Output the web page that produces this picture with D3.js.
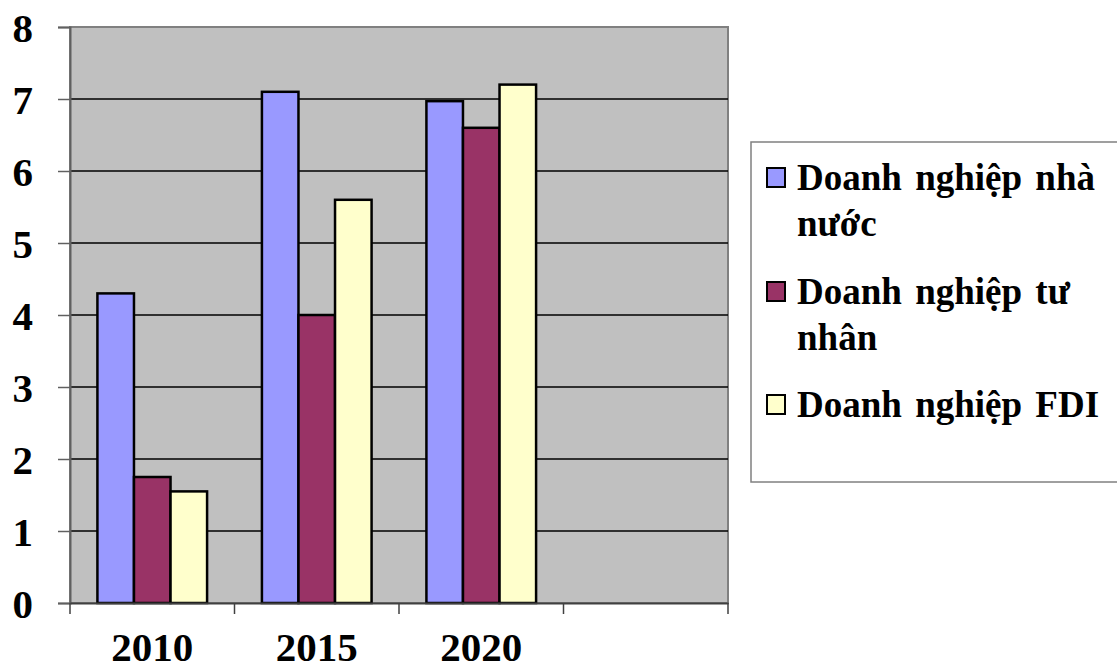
<!DOCTYPE html>
<meta charset="utf-8">
<script src="https://d3js.org/d3.v7.min.js"></script>
<style>
    body { margin: 0; background: #fff; }
    svg text { font-family: "Liberation Serif", "Times New Roman", serif; font-weight: bold; fill: #000; }
    .tick-label { font-size: 41px; }
    .legend-text { font-size: 37px; word-spacing: 4px; }
</style>
<div id="my_dataviz"></div>
<script>
// data
const years = ["2010", "2015", "2020", ""];
const seriesNames = ["Doanh nghiệp nhà nước", "Doanh nghiệp tư nhân", "Doanh nghiệp FDI"];
const legendLines = [["Doanh nghiệp nhà", "nước"], ["Doanh nghiệp tư", "nhân"], ["Doanh nghiệp FDI"]];
const stateValues = [4.3, 7.1, 6.97];
const privateValues = [1.75, 4.0, 6.6];
const fdiValues = [1.55, 5.6, 7.2];
const yTicks = [0, 1, 2, 3, 4, 5, 6, 7, 8];
const colors = ["#9999FF", "#993366", "#FFFFCC"];

const W = 1117, H = 671;
const plot = {left: 70, top: 27, right: 728, bottom: 603};

const svg = d3.select("#my_dataviz").append("svg")
    .attr("width", W).attr("height", H);

const x = d3.scaleBand().domain(years).range([plot.left, plot.right]).padding(0);
const y = d3.scaleLinear().domain([0, 8]).range([plot.bottom, plot.top]);
// 3 bars + gap of 1.5 bar widths per category
const xSub = d3.scaleBand().domain(seriesNames)
    .range([0, x.bandwidth()]).paddingOuter(0.75).paddingInner(0);

// plot background
svg.append("rect")
    .attr("x", plot.left).attr("y", plot.top)
    .attr("width", plot.right - plot.left).attr("height", plot.bottom - plot.top)
    .attr("fill", "#C0C0C0").attr("stroke", "#808080").attr("stroke-width", 2);

// gridlines
svg.append("g").selectAll("line")
    .data(yTicks.filter(d => d > 0 && d < 8))
    .join("line")
    .attr("x1", plot.left).attr("x2", plot.right)
    .attr("y1", d => y(d)).attr("y2", d => y(d))
    .attr("stroke", "#000").attr("stroke-width", 1.5);

// bars
const table = years.slice(0, 3).map((yr, i) => ({
    year: yr,
    vals: [stateValues[i], privateValues[i], fdiValues[i]]
}));

const groups = svg.append("g").selectAll("g")
    .data(table)
    .join("g")
    .attr("transform", d => "translate(" + x(d.year) + ",0)");

groups.selectAll("rect")
    .data(d => d.vals.map((v, j) => ({name: seriesNames[j], v: v, j: j})))
    .join("rect")
    .attr("x", d => xSub(d.name))
    .attr("width", xSub.bandwidth())
    .attr("y", d => y(d.v))
    .attr("height", d => y(0) - y(d.v))
    .attr("fill", d => colors[d.j])
    .attr("stroke", "#000").attr("stroke-width", 2.5);

// y axis
const yAxis = svg.append("g")
    .attr("transform", "translate(" + plot.left + ",0)")
    .call(d3.axisLeft(y).tickValues(yTicks).tickSize(12).tickFormat(d3.format("d")));
yAxis.attr("font-family", null).attr("font-size", null);
yAxis.select(".domain").attr("stroke", "#606060").attr("stroke-width", 2);
yAxis.selectAll(".tick line").attr("stroke", "#606060").attr("stroke-width", 1.5);
yAxis.selectAll(".tick text")
    .attr("class", "tick-label")
    .attr("x", -37).attr("dy", "0.35em");

// x axis
const xAxis = svg.append("g")
    .attr("transform", "translate(0," + plot.bottom + ")")
    .call(d3.axisBottom(x).tickSize(0).tickFormat(d => d));
xAxis.attr("font-family", null).attr("font-size", null);
xAxis.select(".domain").attr("stroke", "#404040").attr("stroke-width", 2);
xAxis.selectAll(".tick text")
    .attr("class", "tick-label")
    .attr("y", 58).attr("dy", 0);

// x category separators
svg.append("g").selectAll("line")
    .data(years.map(d => x(d)).concat([plot.right]))
    .join("line")
    .attr("x1", d => d).attr("x2", d => d)
    .attr("y1", plot.bottom).attr("y2", plot.bottom + 11)
    .attr("stroke", "#404040").attr("stroke-width", 1.5);

// legend
const legend = svg.append("g");
legend.append("rect")
    .attr("x", 751).attr("y", 142)
    .attr("width", 380).attr("height", 340)
    .attr("fill", "#fff").attr("stroke", "#808080").attr("stroke-width", 1.5);

const baselines = [190, 304, 417];
legendLines.forEach((lines, i) => {
    legend.append("rect")
        .attr("x", 767).attr("y", baselines[i] - 22)
        .attr("width", 18).attr("height", 19)
        .attr("fill", colors[i]).attr("stroke", "#000").attr("stroke-width", 2);
    const t = legend.append("text")
        .attr("class", "legend-text")
        .attr("x", 797).attr("y", baselines[i]);
    lines.forEach((ln, k) => {
        t.append("tspan").attr("x", 797).attr("y", baselines[i] + k * 45.5).text(ln);
    });
});
</script>
